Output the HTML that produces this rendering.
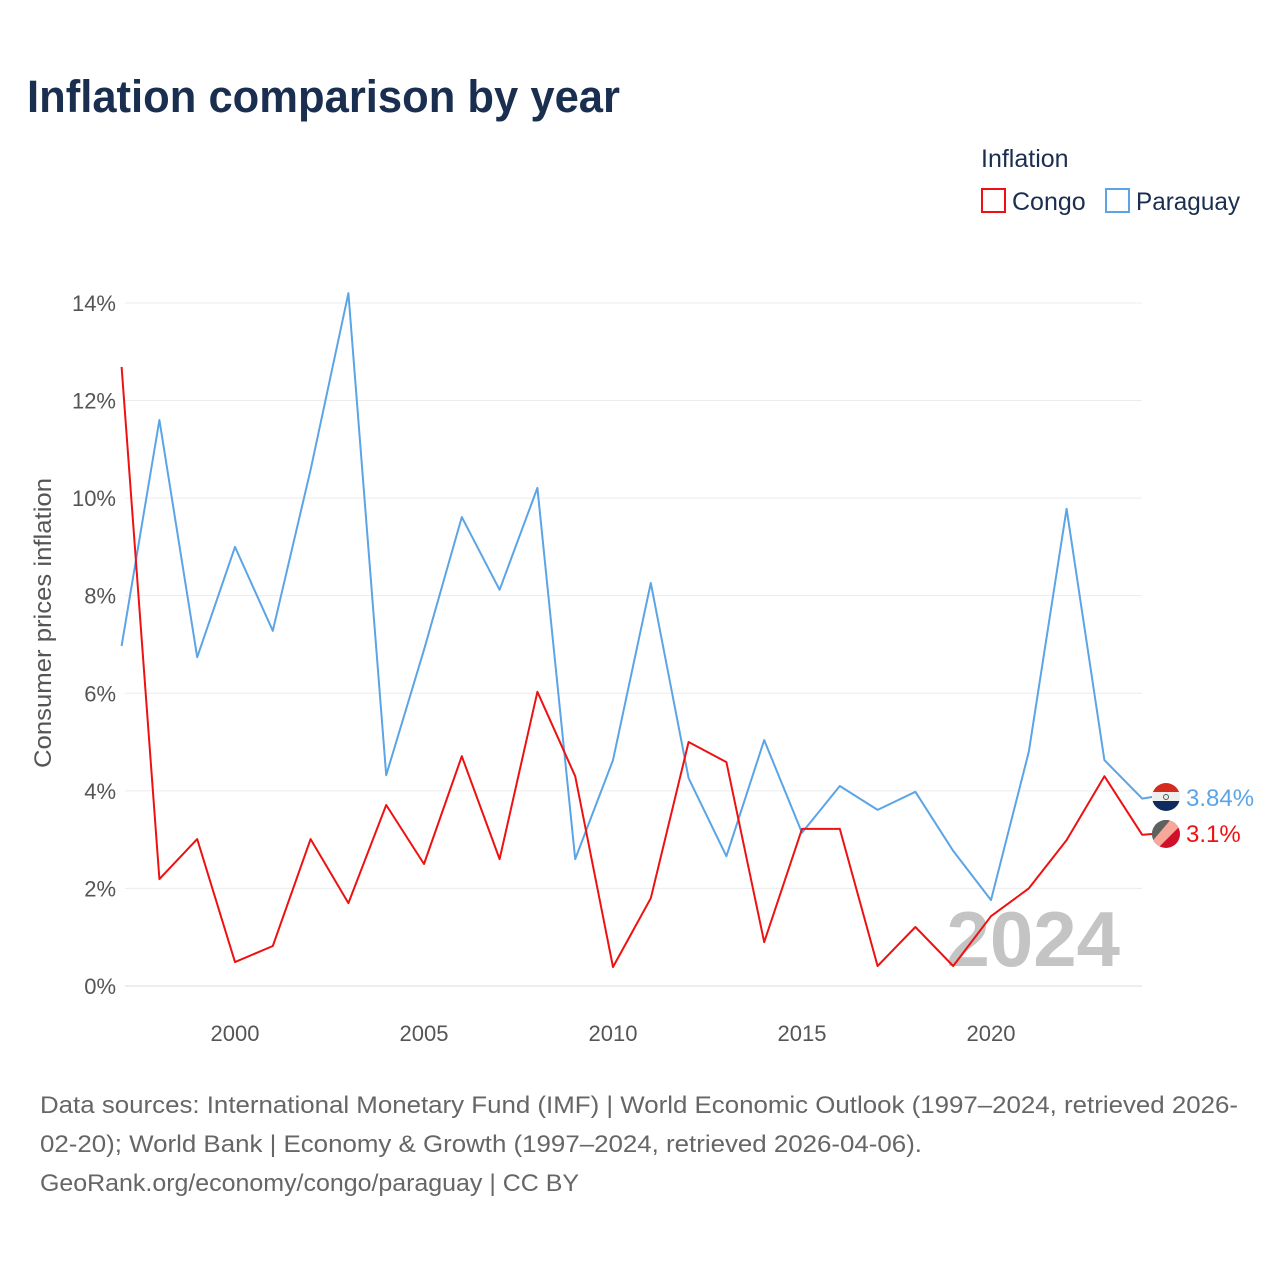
<!DOCTYPE html>
<html><head><meta charset="utf-8"><style>
body{margin:0;background:#fff;font-family:"Liberation Sans",sans-serif}
</style></head><body>
<svg id="chart" width="1280" height="1280" viewBox="0 0 1280 1280" xmlns="http://www.w3.org/2000/svg">
<rect width="1280" height="1280" fill="#fff"/>
<text x="27" y="112" font-size="45" font-weight="bold" fill="#1a2e50" textLength="593" lengthAdjust="spacingAndGlyphs">Inflation comparison by year</text>
<text x="981" y="167" font-size="25" fill="#1a2e50">Inflation</text>
<g><rect x="982" y="189" width="23" height="23" fill="none" stroke="#ee1111" stroke-width="2"/><text x="1012" y="210" font-size="25" fill="#1a2e50">Congo</text></g>
<g><rect x="1106" y="189" width="23" height="23" fill="none" stroke="#5ba4e6" stroke-width="2"/><text x="1136" y="210" font-size="25" fill="#1a2e50" textLength="104" lengthAdjust="spacingAndGlyphs">Paraguay</text></g>
<text transform="translate(51,623) rotate(-90)" text-anchor="middle" font-size="24" fill="#555" textLength="290" lengthAdjust="spacingAndGlyphs">Consumer prices inflation</text>
<g id="grid"></g><g id="ticks"></g>
<text x="1120" y="966" text-anchor="end" font-size="78" font-weight="bold" fill="#c4c4c4">2024</text>
<g id="series"></g>
<g>
<clipPath id="cp1"><circle cx="1166" cy="797" r="14"/></clipPath>
<g clip-path="url(#cp1)"><rect x="1152" y="783" width="28" height="10" fill="#d52b1e"/><rect x="1152" y="792" width="28" height="10" fill="#eee"/><rect x="1152" y="801" width="28" height="10" fill="#0f2a5c"/></g>
<circle cx="1166" cy="797" r="2.5" fill="none" stroke="#555" stroke-width="1"/></g>
<g>
<clipPath id="cp2"><circle cx="1166" cy="834" r="14"/></clipPath>
<g clip-path="url(#cp2)"><rect x="1150" y="818" width="32" height="32" fill="#d0102a"/><polygon points="1150,818 1182,818 1150,850" fill="#5d625e"/><polygon points="1172,818 1182,818 1182,824 1156,850 1150,850 1150,844" fill="#f8a898"/></g></g>
<text x="1186" y="806" font-size="24" fill="#5ba4e6">3.84%</text>
<text x="1186" y="842" font-size="24" fill="#ee1111">3.1%</text>
<text font-size="24" fill="#666"><tspan x="40" y="1113" textLength="1198" lengthAdjust="spacingAndGlyphs">Data sources: International Monetary Fund (IMF) | World Economic Outlook (1997–2024, retrieved 2026-</tspan><tspan x="40" y="1152" textLength="882" lengthAdjust="spacingAndGlyphs">02-20); World Bank | Economy &amp; Growth (1997–2024, retrieved 2026-04-06).</tspan><tspan x="40" y="1191" textLength="539" lengthAdjust="spacingAndGlyphs">GeoRank.org/economy/congo/paraguay | CC BY</tspan></text>
</svg>
<script>
const years=[1997,1998,1999,2000,2001,2002,2003,2004,2005,2006,2007,2008,2009,2010,2011,2012,2013,2014,2015,2016,2017,2018,2019,2020,2021,2022,2023,2024];
const paraguay=[6.97,11.6,6.74,9.0,7.28,10.58,14.2,4.32,6.89,9.61,8.12,10.21,2.6,4.63,8.26,4.26,2.66,5.04,3.14,4.1,3.61,3.98,2.77,1.76,4.8,9.78,4.63,3.84];
const congo=[12.69,2.19,3.01,0.49,0.82,3.01,1.7,3.71,2.5,4.71,2.6,6.03,4.3,0.39,1.8,5.0,4.59,0.9,3.22,3.22,0.41,1.21,0.41,1.43,2.0,2.99,4.3,3.1];
const yTicks=[0,2,4,6,8,10,12,14];
const xTicks=[2000,2005,2010,2015,2020];
const NS="http://www.w3.org/2000/svg";
const x=v=>121.6+(v-1997)*37.8;
const y=v=>986-v*48.79;
const grid=document.getElementById('grid'),ticks=document.getElementById('ticks'),series=document.getElementById('series');
yTicks.forEach(t=>{
 const l=document.createElementNS(NS,'line');
 l.setAttribute('x1',125);l.setAttribute('x2',1142);l.setAttribute('y1',y(t));l.setAttribute('y2',y(t));
 l.setAttribute('stroke',t===0?'#ddd':'#ececec');l.setAttribute('stroke-width',1);
 
 
 grid.appendChild(l);
 const tx=document.createElementNS(NS,'text');
 tx.setAttribute('x',116);tx.setAttribute('y',y(t)+8);tx.setAttribute('text-anchor','end');
 tx.setAttribute('font-size',22);tx.setAttribute('fill','#555');tx.textContent=t+'%';
 
 
 ticks.appendChild(tx);
});
xTicks.forEach(t=>{
 const tx=document.createElementNS(NS,'text');
 tx.setAttribute('x',x(t));tx.setAttribute('y',1041);tx.setAttribute('text-anchor','middle');
 tx.setAttribute('font-size',22);tx.setAttribute('fill','#555');tx.textContent=t;
 
 
 ticks.appendChild(tx);
});
function draw(vals,color,name,fy){
 let d=vals.map((v,i)=>(i?'L':'M')+x(years[i]).toFixed(1)+','+y(v).toFixed(1)).join(' ');
 d+=' L1152,'+fy;
 const p=document.createElementNS(NS,'path');
 p.setAttribute('d',d);p.setAttribute('fill','none');p.setAttribute('stroke',color);p.setAttribute('stroke-width',2);p.setAttribute('stroke-linejoin','round');
 
 
 series.appendChild(p);
}
draw(paraguay,'#5ba4e6','paraguay-line',797);
draw(congo,'#ee1111','congo-line',834);
</script>
</body></html>
